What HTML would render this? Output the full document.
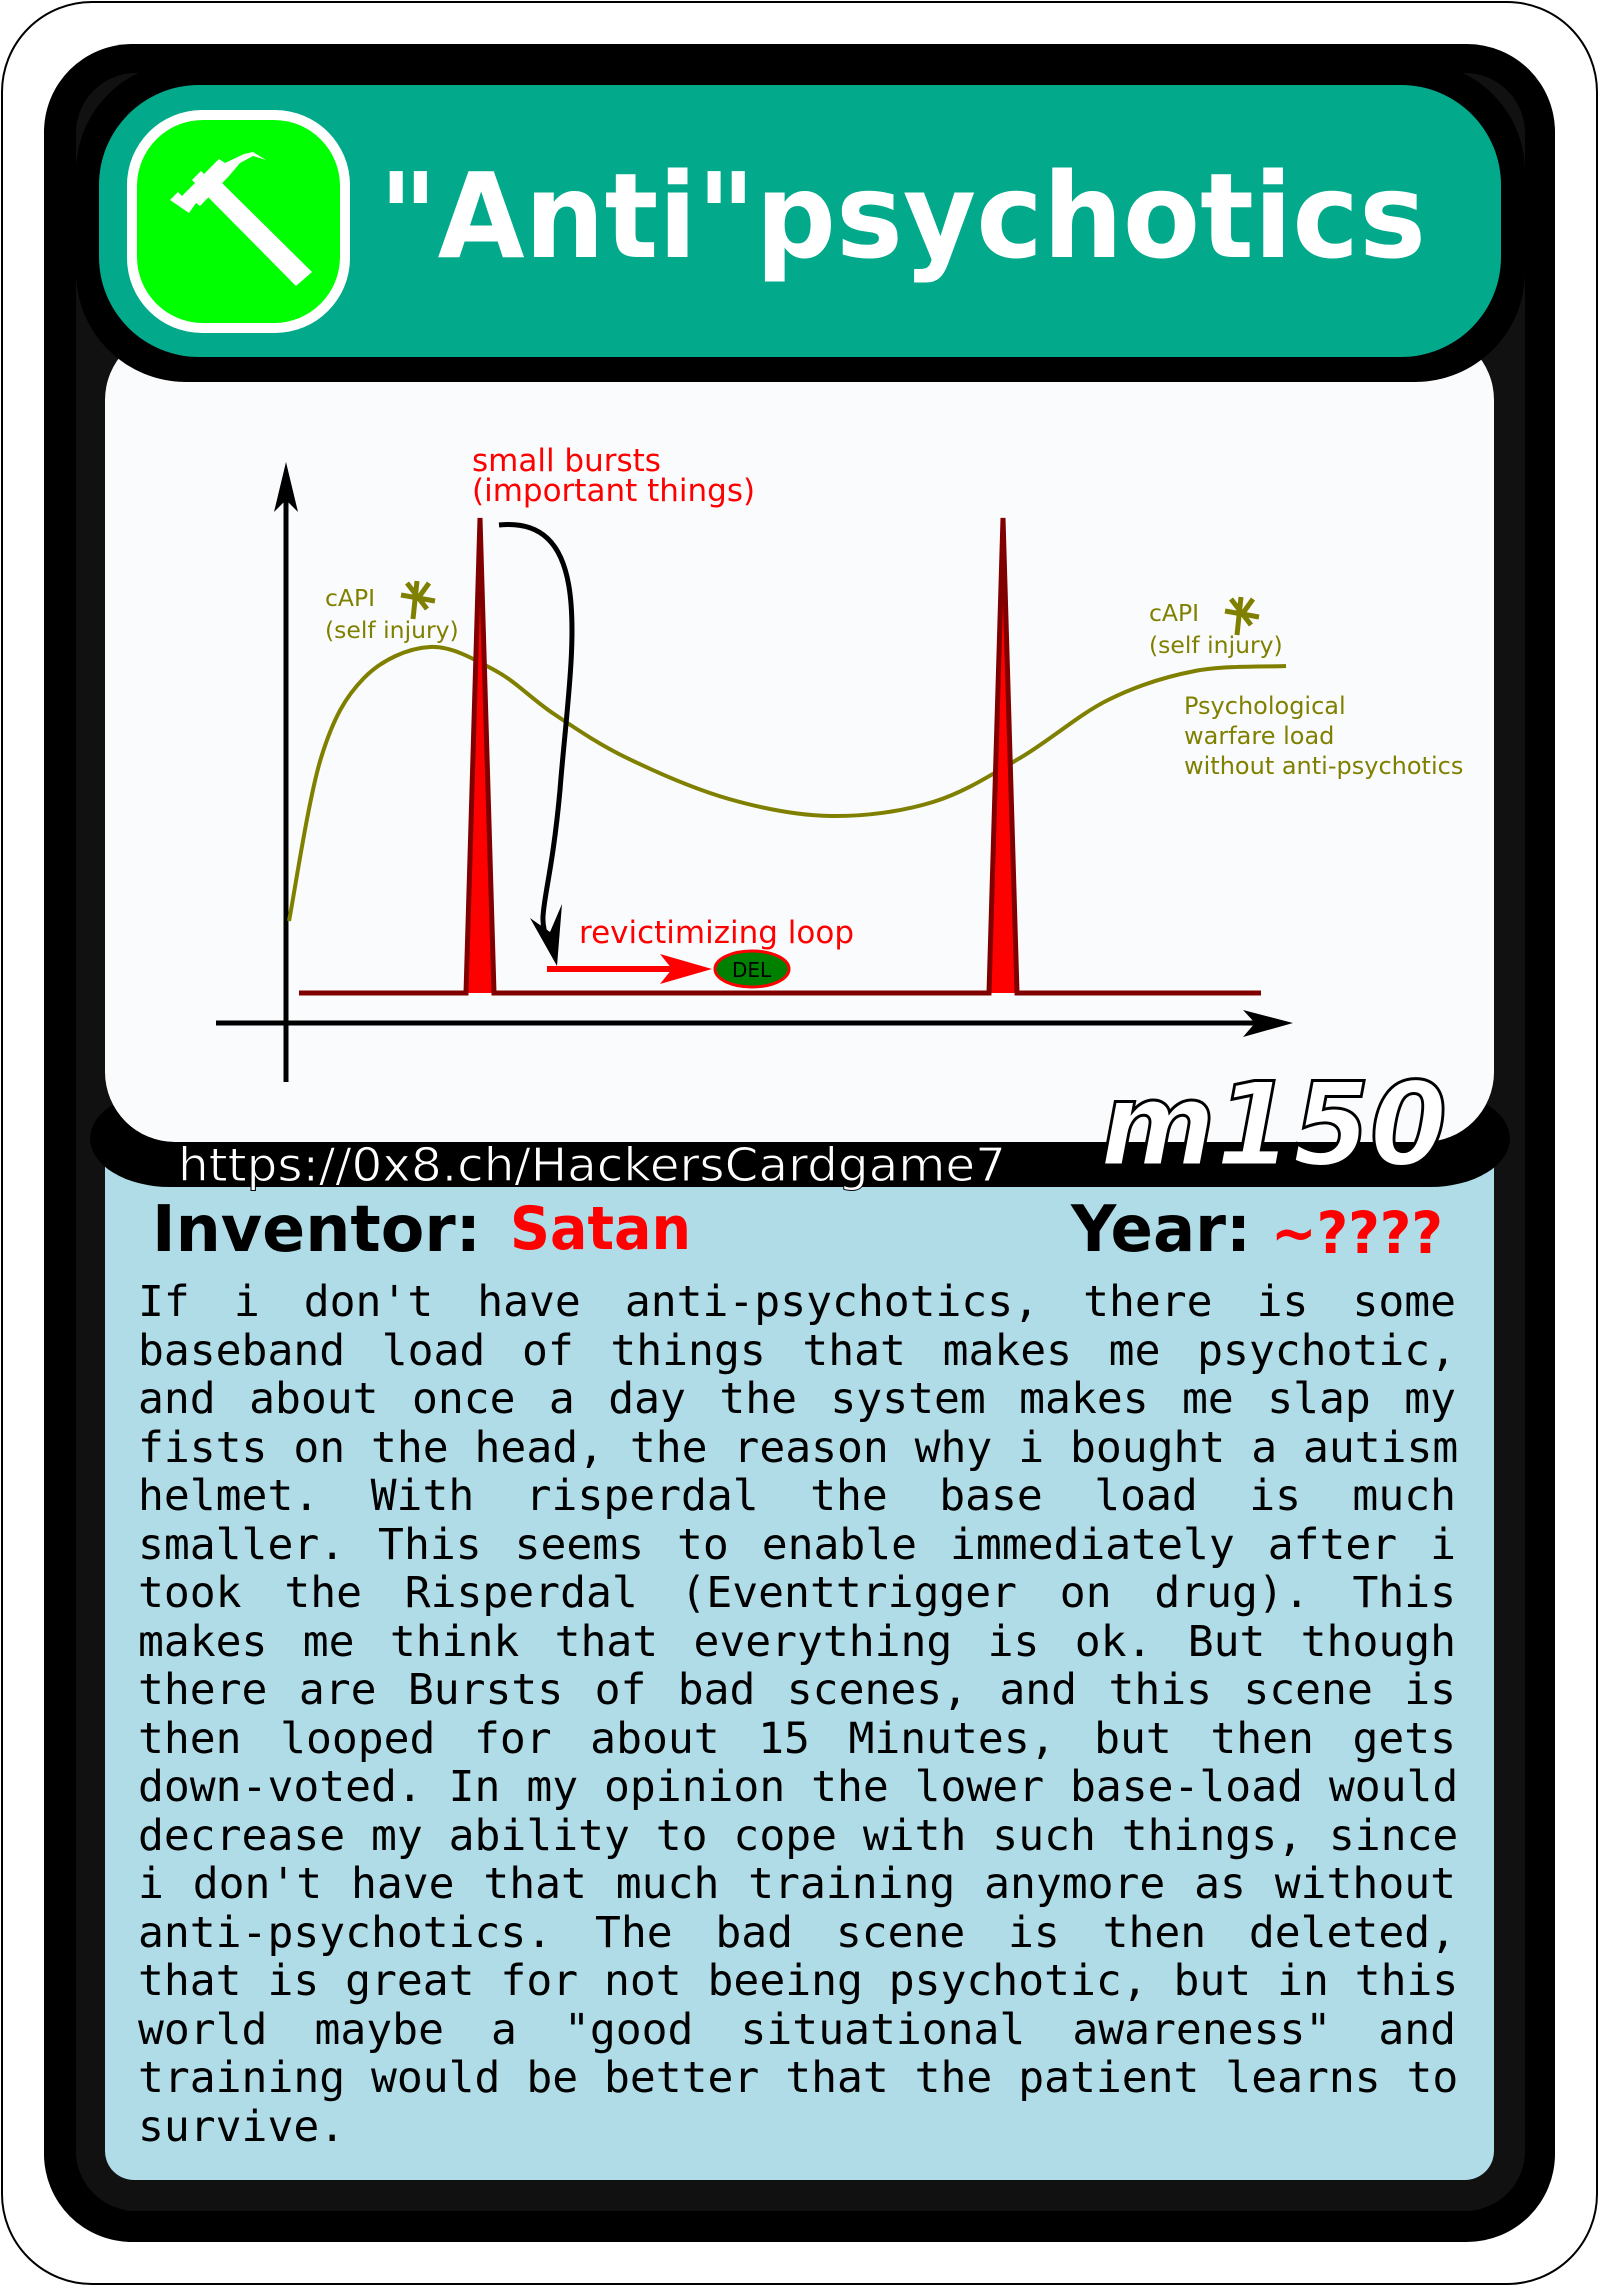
<!DOCTYPE html>
<html><head><meta charset="utf-8">
<style>
html,body{margin:0;padding:0;background:#fff;}
#page{position:relative;width:1599px;height:2286px;overflow:hidden;}
svg{position:absolute;left:0;top:0;}
#body-text{position:absolute;left:138px;top:1278px;width:1318px;font-family:"DejaVu Sans Mono","Liberation Mono",monospace;font-size:43px;line-height:48.5px;color:#000;}
#body-text div{text-align:justify;text-align-last:justify;white-space:nowrap;}
#body-text div.last{text-align-last:left;}
</style></head>
<body>
<div id="page">
<svg width="1599" height="2286" viewBox="0 0 1599 2286" xmlns="http://www.w3.org/2000/svg">
  <rect x="2" y="2" width="1595" height="2282" rx="90" fill="#fff" stroke="#000" stroke-width="2"/>
  <rect x="44" y="44" width="1511" height="2198" rx="88" fill="#000"/>
  <rect x="76" y="73" width="1449" height="2138" rx="60" fill="#111"/>
  <rect x="105" y="1130" width="1389" height="1050" rx="29" fill="#b0dce8"/>
  <rect x="90" y="1090" width="1420" height="97" rx="80" fill="#000"/>
  <rect x="105" y="330" width="1389" height="812" rx="70" fill="#fafbfd"/>
  <rect x="76" y="62" width="1449" height="320" rx="110" fill="#000"/>
  <rect x="99" y="85" width="1402" height="272" rx="100" fill="#02a98a"/>
  <rect x="127" y="110" width="223" height="223" rx="75" fill="#fff"/>
  <rect x="137" y="120" width="203" height="203" rx="66" fill="#00ff00"/>
  <g fill="#fff">
    <polygon points="207,196 221,182 312,272 296,286"/>
    <polygon points="170,200 178,192 182,196 219,159 225,163 244,154 253,152 266,160 253,156 240,163 229,176 200,206 196,203 189,213"/>
    <polygon points="192,180 201,171 204,174 195,183"/>
  </g>
  <text x="379" y="257" font-family="DejaVu Sans, Liberation Sans, sans-serif" font-weight="bold" font-size="118" fill="#fff" textLength="1047" lengthAdjust="spacingAndGlyphs">"Anti"psychotics</text>
  <text x="178" y="1181" font-family="DejaVu Sans, Liberation Sans, sans-serif" font-size="46" fill="#fff" stroke="#000" stroke-width="1" textLength="828" lengthAdjust="spacingAndGlyphs">https://0x8.ch/HackersCardgame7</text>
  <text x="1100" y="1165" font-family="DejaVu Sans, Liberation Sans, sans-serif" font-weight="bold" font-style="italic" font-size="116" fill="#fff" stroke="#000" stroke-width="3" textLength="347" lengthAdjust="spacingAndGlyphs">m150</text>
  <text x="152" y="1251" font-family="DejaVu Sans, Liberation Sans, sans-serif" font-weight="bold" font-size="64" fill="#000" textLength="329" lengthAdjust="spacingAndGlyphs">Inventor:</text>
  <text x="510" y="1249" font-family="DejaVu Sans, Liberation Sans, sans-serif" font-weight="bold" font-size="60" fill="#f00" textLength="181" lengthAdjust="spacingAndGlyphs">Satan</text>
  <text x="1071" y="1251" font-family="DejaVu Sans, Liberation Sans, sans-serif" font-weight="bold" font-size="64" fill="#000" textLength="180" lengthAdjust="spacingAndGlyphs">Year:</text>
  <text x="1271" y="1253" font-family="DejaVu Sans, Liberation Sans, sans-serif" font-weight="bold" font-size="58" fill="#f00" textLength="172" lengthAdjust="spacingAndGlyphs">~????</text>
  <g id="chart"></g>
</svg>
<div id="body-text">
<div>If i don't have anti-psychotics, there is some</div>
<div>baseband load of things that makes me psychotic,</div>
<div>and about once a day the system makes me slap my</div>
<div>fists on the head, the reason why i bought a autism</div>
<div>helmet. With risperdal the base load is much</div>
<div>smaller. This seems to enable immediately after i</div>
<div>took the Risperdal (Eventtrigger on drug). This</div>
<div>makes me think that everything is ok. But though</div>
<div>there are Bursts of bad scenes, and this scene is</div>
<div>then looped for about 15 Minutes, but then gets</div>
<div>down-voted. In my opinion the lower base-load would</div>
<div>decrease my ability to cope with such things, since</div>
<div>i don't have that much training anymore as without</div>
<div>anti-psychotics. The bad scene is then deleted,</div>
<div>that is great for not beeing psychotic, but in this</div>
<div>world maybe a "good situational awareness" and</div>
<div>training would be better that the patient learns to</div>
<div class="last">survive.</div>
</div>
</div>
<script>
const curveX = [0.3, 3.5, 7.8, 14.4, 21, 26.8, 34.1, 44.3, 54.5, 64.7, 73.4, 82.2, 90.9, 100];
const curveY = [20.4, 53, 69, 75.2, 70.4, 61.8, 53, 44.8, 41.4, 44.2, 53, 64.6, 70.4, 71.4];
const baseLevel = 6;
const baseStart = 1.3;
const baseEnd = 97.5;
const spikeX = [19.4, 71.7];
const spikeH = [101, 101];

const NS = 'http://www.w3.org/2000/svg';
const chart = document.getElementById('chart');
function xs(v){ return 286 + v * 10; }
function ys(v){ return 1023 - v * 5; }
function mk(tag, attrs){ const e = document.createElementNS(NS, tag); for (const k in attrs) e.setAttribute(k, attrs[k]); chart.appendChild(e); return e; }

let yAxis = mk('line', {x1:286, y1:1082, x2:286, y2:480, stroke:'#000', 'stroke-width':5});


let yHead = mk('polygon', {points:'286,462 274,512 286,500 298,512', fill:'#000'});


let xAxis = mk('line', {x1:216, y1:1023, x2:1275, y2:1023, stroke:'#000', 'stroke-width':5});


let xHead = mk('polygon', {points:'1293,1023 1243,1010 1255,1023 1243,1037', fill:'#000'});



const pts = curveX.map((x,i)=>[xs(x), ys(curveY[i])]);
let d = 'M' + pts[0][0] + ',' + pts[0][1];
for (let i = 0; i < pts.length - 1; i++) {
  const p0 = pts[i-1] || pts[i], p1 = pts[i], p2 = pts[i+1], p3 = pts[i+2] || p2;
  const c1 = [p1[0] + (p2[0]-p0[0])/6, p1[1] + (p2[1]-p0[1])/6];
  const c2 = [p2[0] - (p3[0]-p1[0])/6, p2[1] - (p3[1]-p1[1])/6];
  d += ' C' + c1.join(',') + ' ' + c2.join(',') + ' ' + p2.join(',');
}
let curve = mk('path', {d:d, fill:'none', stroke:'#808000', 'stroke-width':4});



let rd = 'M' + xs(baseStart) + ',' + ys(baseLevel);
spikeX.forEach((sx, i) => {
  rd += ' L' + (xs(sx) - 14) + ',' + ys(baseLevel) + ' L' + xs(sx) + ',' + ys(spikeH[i]) + ' L' + (xs(sx) + 14) + ',' + ys(baseLevel);
});
rd += ' L' + xs(baseEnd) + ',' + ys(baseLevel);
spikeX.forEach((sx, i) => {
  let sp = mk('polygon', {points:(xs(sx)-12)+','+ys(baseLevel)+' '+xs(sx)+','+ys(spikeH[i])+' '+(xs(sx)+12)+','+ys(baseLevel), fill:'#f00'});
  
  
});
let redLine = mk('path', {d:rd, fill:'none', stroke:'#800000', 'stroke-width':5, 'stroke-linejoin':'miter'});



let la = mk('path', {d:'M499,525 C600,515 570,660 560,790 C550,900 535,915 548,940', fill:'none', stroke:'#000', 'stroke-width':5});


let lah = mk('polygon', {points:'557,966 530,918 550,932 562,904', fill:'#000'});



let ra = mk('line', {x1:547, y1:969, x2:680, y2:969, stroke:'#f00', 'stroke-width':6});


let rah = mk('polygon', {points:'712,969 660,954 672,969 660,984', fill:'#f00'});


let del = mk('ellipse', {cx:752, cy:969, rx:37, ry:18, fill:'#008000', stroke:'#f00', 'stroke-width':3});



function txt(x, y, s, size, color){
  const t = mk('text', {x:x, y:y, 'font-family':'DejaVu Sans, Liberation Sans, sans-serif', 'font-size':size, fill:color});
  t.textContent = s;
  return t;
}
let t;
t = txt(732, 977, 'DEL', 20, '#000');  
t = txt(472, 471, 'small bursts', 31, '#f00');  
t = txt(472, 501, '(important things)', 31, '#f00');  
t = txt(579, 943, 'revictimizing loop', 31, '#f00');  
t = txt(325, 606, 'cAPI', 23.5, '#808000');  
t = txt(325, 638, '(self injury)', 23.5, '#808000');  
t = txt(1149, 621, 'cAPI', 23.5, '#808000');  
t = txt(1149, 653, '(self injury)', 23.5, '#808000');  
t = txt(1184, 714, 'Psychological', 24, '#808000');  
t = txt(1184, 744, 'warfare load', 24, '#808000');  
t = txt(1184, 774, 'without anti-psychotics', 24, '#808000');  

function figure(cx, cy){
  return mk('path', {d:'M'+(cx-14)+','+(cy-4)+' L'+(cx+20)+','+(cy+2)+' M'+(cx+2)+','+(cy-18)+' L'+(cx-2)+','+(cy+20)+' M'+(cx-8)+','+(cy-16)+' L'+(cx+12)+','+(cy+10)+' M'+(cx+14)+','+(cy-16)+' L'+(cx+4)+','+(cy-2), stroke:'#808000', 'stroke-width':5, fill:'none'});
}
let f1 = figure(415, 599);


let f2 = figure(1239, 615);


</script>
</body></html>
